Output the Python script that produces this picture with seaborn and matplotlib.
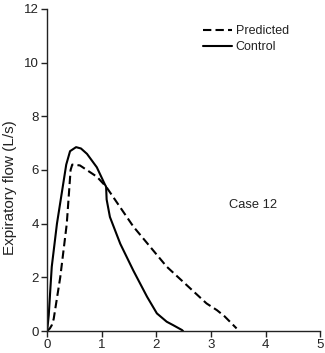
import matplotlib
matplotlib.use("Agg")
import matplotlib.pyplot as plt
import seaborn as sns
import pandas as pd

# Data
control_x = [0.0, 0.03, 0.06, 0.085, 0.18, 0.35, 0.42, 0.53, 0.62, 0.73, 0.91, 1.06, 1.08, 1.09, 1.15, 1.34, 1.58, 1.83, 2.01, 2.19, 2.31, 2.47, 2.49]
control_y = [0.0, 0.6, 1.6, 2.4, 4.0, 6.2, 6.7, 6.85, 6.8, 6.6, 6.1, 5.45, 5.38, 4.9, 4.25, 3.25, 2.25, 1.28, 0.66, 0.35, 0.22, 0.04, 0.0]
pred_x = [0.0, 0.05, 0.085, 0.12, 0.24, 0.36, 0.43, 0.46, 0.6, 0.91, 1.08, 1.58, 2.19, 2.92, 3.11, 3.25, 3.47]
pred_y = [0.0, 0.1, 0.22, 0.45, 2.0, 4.0, 6.0, 6.2, 6.17, 5.75, 5.38, 3.89, 2.4, 1.03, 0.78, 0.55, 0.1]
series_names = ["Predicted", "Control"]
x_ticks = [0, 1, 2, 3, 4, 5]
y_ticks = [0, 2, 4, 6, 8, 10, 12]
annotation = "Case 12"
y_label = "Expiratory flow (L/s)"

df = pd.concat([
    pd.DataFrame({"volume": pred_x, "flow": pred_y, "series": series_names[0]}),
    pd.DataFrame({"volume": control_x, "flow": control_y, "series": series_names[1]}),
], ignore_index=True)

sns.set_style("ticks")
plt.rcParams["font.family"] = ["Liberation Sans", "DejaVu Sans"]

fig = plt.figure(figsize=(3.25, 3.53), dpi=100)
ax = fig.add_axes([0.145, 0.062, 0.84, 0.913])

sns.lineplot(data=df, x="volume", y="flow", style="series", hue="series",
             palette={"Predicted": "black", "Control": "black"},
             dashes={"Predicted": (4, 2), "Control": ""},
             sort=False, estimator=None, linewidth=1.5, ax=ax)

ax.set_xlim(0, 5)
ax.set_ylim(0, 12)
ax.set_xticks(x_ticks)
ax.set_yticks(y_ticks)
ax.set_xlabel("")
ax.set_ylabel(y_label, fontsize=11, color="#222222")
ax.yaxis.set_label_coords(-0.112, 0.444)
ax.tick_params(axis="both", labelsize=9.5, length=4, width=1, colors="#222222", direction="out", pad=2)
for s in ["top", "right"]:
    ax.spines[s].set_visible(False)
for s in ["left", "bottom"]:
    ax.spines[s].set_linewidth(1)
    ax.spines[s].set_color("#222222")

ax.text(3.77, 4.7, annotation, fontsize=9.3, ha="center", va="center", color="#222222")

leg = ax.legend(loc="upper left", bbox_to_anchor=(0.553, 0.964), frameon=False, fontsize=9,
                handlelength=2.3, handletextpad=0.3, labelspacing=0.32, borderaxespad=0)
for t in leg.get_texts():
    t.set_color("#222222")

fig.savefig("out.png", dpi=100)
